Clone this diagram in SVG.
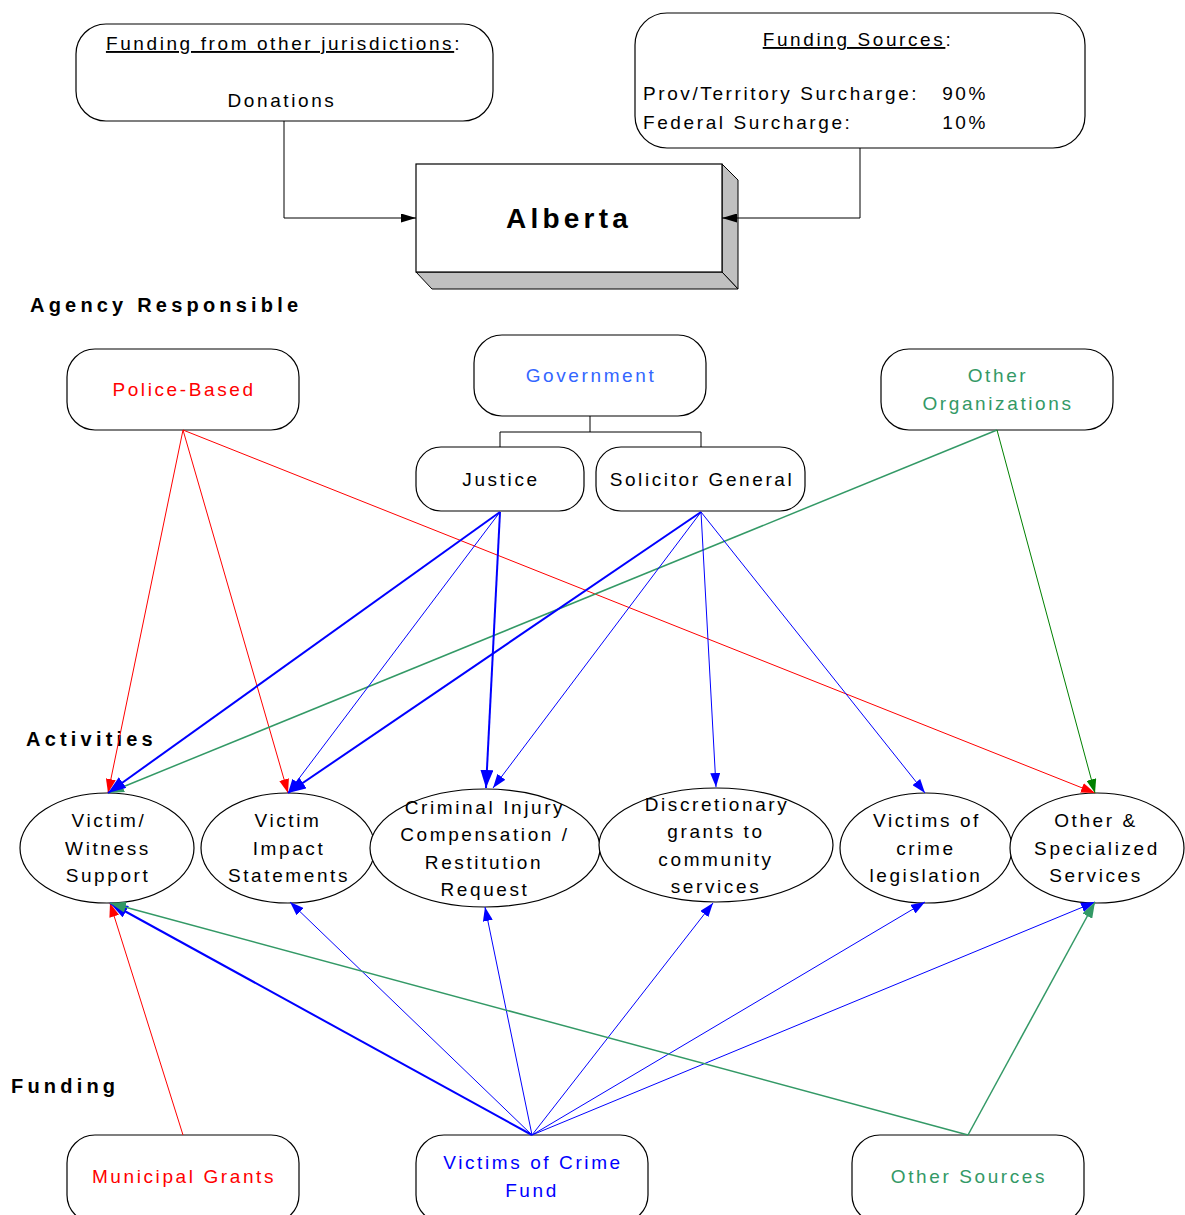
<svg xmlns="http://www.w3.org/2000/svg" width="1185" height="1215" viewBox="0 0 1185 1215">
  <style>
    text { font-family: "Liberation Sans", Arial, Helvetica, sans-serif; font-size: 19px; letter-spacing: 2.6px; fill: #000; }
    .c { text-anchor: middle; }
    .hd { font-size: 20px; font-weight: bold; letter-spacing: 4.2px; }
    .big { font-size: 28px; font-weight: bold; letter-spacing: 4.2px; }
    .box { fill: #fff; stroke: #000; stroke-width: 1.2; }
    .face { fill: #c0c0c0; stroke: #000; stroke-width: 1; }
    .red { fill: #ff0000; }
    .gov { fill: #3366ff; }
    .grn { fill: #339966; }
    .blu { fill: #0000ff; }
    .ul { text-decoration: underline; }
    .ln { fill: none; stroke-width: 1; }
    .l-red { stroke: #ff0000; marker-end: url(#ar-red); }
    .l-blue { stroke: #0000ff; marker-end: url(#ar-blue); }
    .l-blue2 { stroke: #0000ff; stroke-width: 2; marker-end: url(#ar-blue2); }
    .l-grn { stroke: #339966; stroke-width: 1.5; marker-end: url(#ar-grn); }
    .l-dkg { stroke: #008000; marker-end: url(#ar-dkg); }
    .l-blk { stroke: #000; marker-end: url(#ar-blk); }
  </style>
  <defs>
    <marker id="ar-red" viewBox="0 0 14 10" markerWidth="14" markerHeight="10" refX="14" refY="5" orient="auto" markerUnits="userSpaceOnUse"><path d="M0,0 L14,5 L0,10 z" fill="#ff0000"/></marker>
    <marker id="ar-blue" viewBox="0 0 14 10" markerWidth="14" markerHeight="10" refX="14" refY="5" orient="auto" markerUnits="userSpaceOnUse"><path d="M0,0 L14,5 L0,10 z" fill="#0000ff"/></marker>
    <marker id="ar-blue2" viewBox="0 0 18 13" markerWidth="18" markerHeight="13" refX="18" refY="6.5" orient="auto" markerUnits="userSpaceOnUse"><path d="M0,0 L18,6.5 L0,13 z" fill="#0000ff"/></marker>
    <marker id="ar-grn" viewBox="0 0 16 11" markerWidth="16" markerHeight="11" refX="16" refY="5.5" orient="auto" markerUnits="userSpaceOnUse"><path d="M0,0 L16,5.5 L0,11 z" fill="#339966"/></marker>
    <marker id="ar-dkg" viewBox="0 0 14 10" markerWidth="14" markerHeight="10" refX="14" refY="5" orient="auto" markerUnits="userSpaceOnUse"><path d="M0,0 L14,5 L0,10 z" fill="#008000"/></marker>
    <marker id="ar-blk" viewBox="0 0 15 9" markerWidth="15" markerHeight="9" refX="15" refY="4.5" orient="auto" markerUnits="userSpaceOnUse"><path d="M0,0 L15,4.5 L0,9 z" fill="#000"/></marker>
  </defs>

  <!-- funding notes -->
  <g id="other-jurisdictions">
    <rect class="box" x="76" y="24" width="417" height="97" rx="30"/>
    <text class="c" x="284" y="50"><tspan class="ul">Funding from other jurisdictions</tspan>:</text>
    <text class="c" x="282" y="107">Donations</text>
  </g>
  <g id="funding-sources">
    <rect class="box" x="635" y="13" width="450" height="135" rx="32"/>
    <text class="c" x="858" y="46"><tspan class="ul">Funding Sources</tspan>:</text>
    <text x="643" y="100">Prov/Territory Surcharge:</text>
    <text x="988" y="100" text-anchor="end">90%</text>
    <text x="643" y="129">Federal Surcharge:</text>
    <text x="988" y="129" text-anchor="end">10%</text>
  </g>

  <!-- province -->
  <g id="alberta">
    <polygon class="face" points="722,164 738,180 738,289 722,272"/>
    <polygon class="face" points="416,272 722,272 738,289 432,289"/>
    <rect class="box" x="416" y="164" width="306" height="108"/>
    <text class="c big" x="569" y="228">Alberta</text>
  </g>

  <!-- section headings -->
  <text class="hd" x="30" y="312">Agency Responsible</text>
  <text class="hd" x="26" y="746">Activities</text>
  <text class="hd" x="11" y="1093">Funding</text>

  <!-- agencies -->
  <g id="police-based">
    <rect class="box" x="67" y="349" width="232" height="81" rx="28"/>
    <text class="c red" x="184" y="396">Police-Based</text>
  </g>
  <g id="government">
    <rect class="box" x="474" y="335" width="232" height="81" rx="28"/>
    <text class="c gov" x="591" y="382">Government</text>
  </g>
  <g id="other-organizations">
    <rect class="box" x="881" y="349" width="232" height="81" rx="28"/>
    <text class="c grn" x="998" y="382">Other</text>
    <text class="c grn" x="998" y="410">Organizations</text>
  </g>
  <g id="justice">
    <rect class="box" x="416" y="447" width="168" height="64" rx="25"/>
    <text class="c" x="501" y="486">Justice</text>
  </g>
  <g id="solicitor-general">
    <rect class="box" x="596" y="447" width="209" height="64" rx="25"/>
    <text class="c" x="702" y="486">Solicitor General</text>
  </g>

  <!-- activities -->
  <g id="victim-witness-support">
    <ellipse class="box" cx="107" cy="848" rx="87" ry="55"/>
    <text class="c" x="109" y="827">Victim/</text>
    <text class="c" x="108" y="855">Witness</text>
    <text class="c" x="108" y="882">Support</text>
  </g>
  <g id="victim-impact-statements">
    <ellipse class="box" cx="288" cy="848" rx="87" ry="55"/>
    <text class="c" x="288" y="827">Victim</text>
    <text class="c" x="289" y="855">Impact</text>
    <text class="c" x="289" y="882">Statements</text>
  </g>
  <g id="criminal-injury">
    <ellipse class="box" cx="485" cy="848" rx="115" ry="59"/>
    <text class="c" x="485" y="814">Criminal Injury</text>
    <text class="c" x="485" y="841">Compensation /</text>
    <text class="c" x="484" y="869">Restitution</text>
    <text class="c" x="485" y="896">Request</text>
  </g>
  <g id="discretionary-grants">
    <ellipse class="box" cx="716" cy="845" rx="117" ry="57"/>
    <text class="c" x="717" y="811">Discretionary</text>
    <text class="c" x="716" y="838">grants to</text>
    <text class="c" x="716" y="866">community</text>
    <text class="c" x="716" y="893">services</text>
  </g>
  <g id="victims-of-crime-legislation">
    <ellipse class="box" cx="926" cy="848" rx="86" ry="55"/>
    <text class="c" x="927" y="827">Victims of</text>
    <text class="c" x="926" y="855">crime</text>
    <text class="c" x="926" y="882">legislation</text>
  </g>
  <g id="other-specialized-services">
    <ellipse class="box" cx="1097" cy="848" rx="87" ry="55"/>
    <text class="c" x="1096" y="827">Other &amp;</text>
    <text class="c" x="1097" y="855">Specialized</text>
    <text class="c" x="1096" y="882">Services</text>
  </g>

  <!-- funding -->
  <g id="municipal-grants">
    <rect class="box" x="67" y="1135" width="232" height="88" rx="28"/>
    <text class="c red" x="184" y="1183">Municipal Grants</text>
  </g>
  <g id="victims-of-crime-fund">
    <rect class="box" x="416" y="1135" width="232" height="88" rx="28"/>
    <text class="c blu" x="533" y="1169">Victims of Crime</text>
    <text class="c blu" x="532" y="1197">Fund</text>
  </g>
  <g id="other-sources">
    <rect class="box" x="852" y="1135" width="232" height="88" rx="28"/>
    <text class="c grn" x="969" y="1183">Other Sources</text>
  </g>

  <!-- connectors, drawn last so arrowheads sit on top of the shapes -->
  <g id="connectors">
    <!-- into Alberta -->
    <polyline class="ln l-blk" points="284,121 284,218 416,218"/>
    <polyline class="ln l-blk" points="860,148 860,218 722,218"/>
    <!-- government org chart -->
    <polyline class="ln" stroke="#000" points="590,416 590,432"/>
    <polyline class="ln" stroke="#000" points="500,447 500,432 701,432 701,447"/>
    <!-- agencies to activities -->
    <line class="ln l-red" x1="183" y1="430" x2="108" y2="793"/>
    <line class="ln l-red" x1="183" y1="430" x2="288" y2="793"/>
    <line class="ln l-red" x1="183" y1="430" x2="1095" y2="793"/>
    <line class="ln l-grn" x1="997" y1="430" x2="108" y2="793"/>
    <line class="ln l-dkg" x1="997" y1="430" x2="1095" y2="793"/>
    <line class="ln l-blue2" x1="500" y1="512" x2="108" y2="793"/>
    <line class="ln l-blue" x1="500" y1="512" x2="288" y2="793"/>
    <line class="ln l-blue2" x1="500" y1="512" x2="486" y2="788"/>
    <line class="ln l-blue2" x1="701" y1="512" x2="288" y2="793"/>
    <line class="ln l-blue" x1="701" y1="512" x2="493" y2="788"/>
    <line class="ln l-blue" x1="701" y1="512" x2="716" y2="787"/>
    <line class="ln l-blue" x1="701" y1="512" x2="925" y2="793"/>
    <!-- funding to activities -->
    <line class="ln l-red" x1="183" y1="1135" x2="110" y2="903"/>
    <line class="ln l-blue2" x1="532" y1="1135" x2="110" y2="903"/>
    <line class="ln l-blue" x1="532" y1="1135" x2="290" y2="902"/>
    <line class="ln l-blue" x1="532" y1="1135" x2="485" y2="907"/>
    <line class="ln l-blue" x1="532" y1="1135" x2="713" y2="903"/>
    <line class="ln l-blue" x1="532" y1="1135" x2="925" y2="902"/>
    <line class="ln l-blue" x1="532" y1="1135" x2="1095" y2="902"/>
    <line class="ln l-grn" x1="968" y1="1135" x2="110" y2="903"/>
    <line class="ln l-grn" x1="968" y1="1135" x2="1095" y2="902"/>
  </g>
</svg>
